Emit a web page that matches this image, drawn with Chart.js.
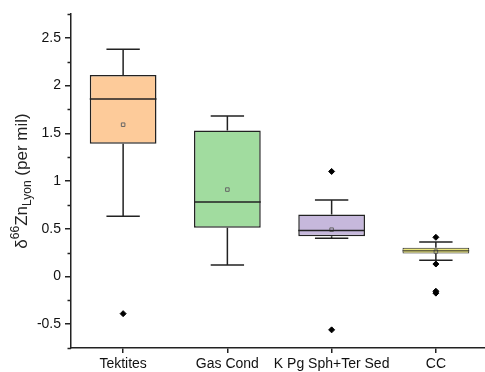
<!DOCTYPE html>
<html>
<head>
<meta charset="utf-8">
<script src="https://cdn.jsdelivr.net/npm/chart.js@4"></script>
<style>
  html, body { margin: 0; padding: 0; background: #fff; overflow: hidden; }
  #wrap { width: 493px; height: 372px; }
</style>
</head>
<body>
<div id="wrap"><canvas id="box"></canvas></div>
<script>
// categories and box statistics
const groups = ['Tektites', 'Gas Cond', 'K Pg Sph+Ter Sed', 'CC'];
const q1 = [1.39, 0.51, 0.42, 0.24];
const q3 = [2.11, 1.53, 0.65, 0.30];
const medians = [1.86, 0.78, 0.48, 0.268];
const means = [1.59, 0.91, 0.49, 0.26];
const whiskLow = [0.63, 0.12, 0.40, 0.17];
const whiskHigh = [2.38, 1.68, 0.80, 0.36];
const outliers = [
  [-0.39],
  [],
  [1.10, -0.56],
  [0.41, 0.13, -0.155, -0.175]
];
const boxColors = ['#FDCB9A', '#A1DC9F', '#C6B8DC', '#EAE67C'];
const yTicks = [-0.5, 0, 0.5, 1, 1.5, 2, 2.5];

const outlierPts = [];
outliers.forEach((arr, i) => arr.forEach(v => outlierPts.push({x: groups[i], y: v})));

// whiskers, medians, minor ticks and the axis title
const boxExtras = {
  id: 'boxExtras',
  afterDatasetsDraw(chart) {
    const ctx = chart.ctx;
    const x = chart.scales.x, y = chart.scales.y;
    const meta = chart.getDatasetMeta(0);
    ctx.save();
    ctx.strokeStyle = '#222';
    groups.forEach((g, i) => {
      const cx = x.getPixelForValue(i);
      const bw = meta.data[i].width;
      const cap = bw / 4;
      ctx.lineWidth = 1.5;
      ctx.beginPath();
      ctx.moveTo(cx, y.getPixelForValue(q3[i]));
      ctx.lineTo(cx, y.getPixelForValue(whiskHigh[i]));
      ctx.moveTo(cx - cap, y.getPixelForValue(whiskHigh[i]));
      ctx.lineTo(cx + cap, y.getPixelForValue(whiskHigh[i]));
      ctx.moveTo(cx, y.getPixelForValue(q1[i]));
      ctx.lineTo(cx, y.getPixelForValue(whiskLow[i]));
      ctx.moveTo(cx - cap, y.getPixelForValue(whiskLow[i]));
      ctx.lineTo(cx + cap, y.getPixelForValue(whiskLow[i]));
      ctx.stroke();
      ctx.lineWidth = i === 3 ? 1 : 1.5;
      ctx.beginPath();
      ctx.moveTo(cx - bw / 2, y.getPixelForValue(medians[i]));
      ctx.lineTo(cx + bw / 2, y.getPixelForValue(medians[i]));
      ctx.stroke();
    });
    ctx.restore();
  },
  afterDraw(chart) {
    const ctx = chart.ctx;
    const y = chart.scales.y;
    const left = chart.chartArea.left;
    ctx.save();
    ctx.strokeStyle = '#222';
    ctx.lineWidth = 1.5;
    y.ticks.forEach(t => {
      if (yTicks.includes(t.value)) return;
      const py = Math.round(y.getPixelForValue(t.value)) + 0.5;
      ctx.beginPath();
      ctx.moveTo(left - 3.5, py);
      ctx.lineTo(left, py);
      ctx.stroke();
    });
    // rotated title: δ66ZnLyon (per mil)
    ctx.translate(22, 181);
    ctx.rotate(-Math.PI / 2);
    ctx.fillStyle = '#222';
    ctx.textBaseline = 'middle';
    const big = '17px "Liberation Sans", Arial, sans-serif';
    const small = '12px "Liberation Sans", Arial, sans-serif';
    const parts = [
      {t: 'δ', f: big, dy: 0},
      {t: '66', f: small, dy: -6},
      {t: 'Zn', f: big, dy: 0},
      {t: 'Lyon', f: small, dy: 6},
      {t: ' (per mil)', f: big, dy: 0}
    ];
    let total = 0;
    parts.forEach(p => { ctx.font = p.f; p.w = ctx.measureText(p.t).width; total += p.w; });
    let px = -total / 2;
    parts.forEach(p => {
      ctx.font = p.f;
      ctx.fillText(p.t, px, p.dy);
      px += p.w;
    });
    ctx.restore();
  }
};

new Chart(document.getElementById('box'), {
  type: 'bar',
  data: {
    labels: groups,
    datasets: [
      {
        label: 'box',
        data: groups.map((g, i) => [q1[i], q3[i]]),
        backgroundColor: boxColors,
        borderColor: '#222',
        borderWidth: [1.5, 1.5, 1.5, 1],
        borderSkipped: false,
        barPercentage: 0.64,
        categoryPercentage: 1,
        order: 3
      },
      {
        type: 'scatter',
        label: 'mean',
        data: groups.map((g, i) => ({x: g, y: means[i]})),
        pointStyle: 'rect',
        radius: 2.5,
        backgroundColor: 'rgba(0,0,0,0)',
        borderColor: '#666',
        borderWidth: 1,
        order: 1
      },
      {
        type: 'scatter',
        label: 'outliers',
        data: outlierPts,
        pointStyle: 'rectRot',
        radius: 3,
        backgroundColor: '#000',
        borderColor: '#000',
        borderWidth: 1,
        order: 0
      }
    ]
  },
  options: {
    responsive: true,
    maintainAspectRatio: false,
    animation: false,
    layout: {padding: {top: 14, left: 0, right: 0, bottom: 0}},
    plugins: {legend: {display: false}, tooltip: {enabled: false}},
    scales: {
      x: {
        type: 'category',
        offset: true,
        grid: {offset: false, drawOnChartArea: false, drawTicks: true, tickLength: 5, color: '#222', lineWidth: 1.5},
        border: {display: true, color: '#222', width: 1.5},
        ticks: {color: '#111', font: {family: '"Liberation Sans", Arial, sans-serif', size: 14}, padding: 3, maxRotation: 0, autoSkip: false},
        afterFit(s) { s.height = 24; }
      },
      y: {
        min: -0.75,
        max: 2.75,
        grid: {
          drawOnChartArea: false, drawTicks: true, tickLength: 6, lineWidth: 1.5,
          color: ctx => yTicks.includes(ctx.tick && ctx.tick.value) ? '#222' : 'rgba(0,0,0,0)'
        },
        border: {display: true, color: '#222', width: 1.5},
        ticks: {
          stepSize: 0.25,
          color: '#111',
          padding: 4,
          font: {family: '"Liberation Sans", Arial, sans-serif', size: 14},
          callback: v => yTicks.includes(v) ? String(v) : ''
        },
        afterFit(s) { s.width = 71; }
      }
    }
  },
  plugins: [boxExtras]
});
</script>
</body>
</html>
